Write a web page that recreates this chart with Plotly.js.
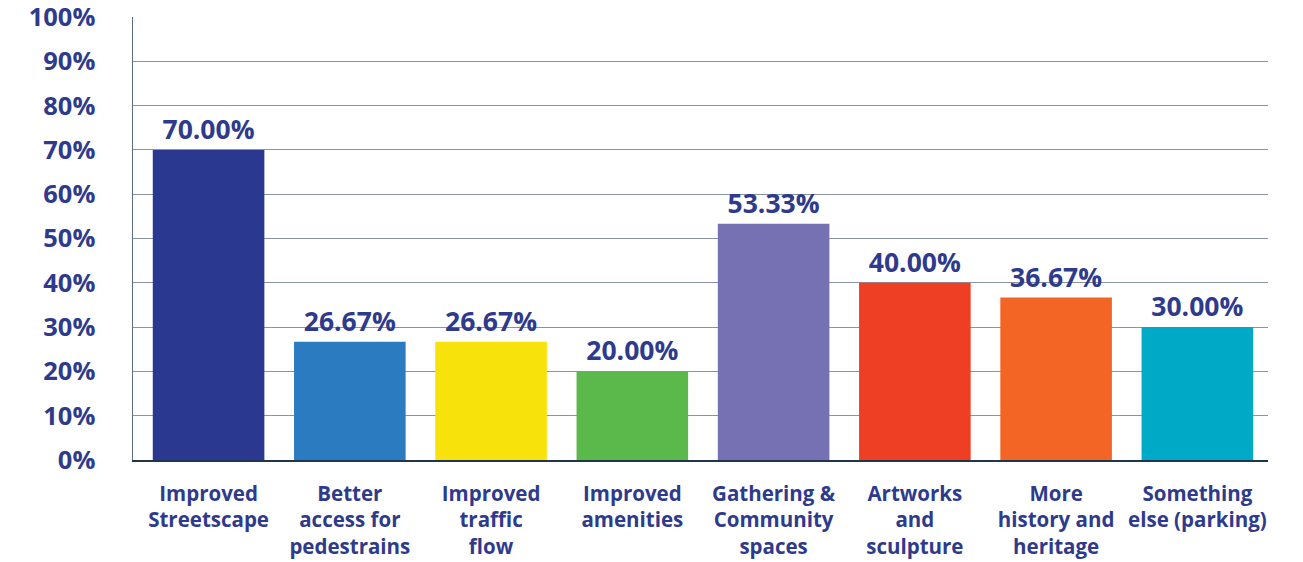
<!DOCTYPE html>
<html>
<head>
<meta charset="utf-8">
<script src="https://cdn.plot.ly/plotly-3.0.1.min.js"></script>
<style>html,body{margin:0;padding:0;background:#fff;}#chart{width:1303px;height:562px;}</style>
</head>
<body>
<div id="chart"></div>
<script>
const categories = [
  "Improved<br>Streetscape",
  "Better<br>access for<br>pedestrains",
  "Improved<br>traffic<br>flow",
  "Improved<br>amenities",
  "Gathering &<br>Community<br>spaces",
  "Artworks<br>and<br>sculpture",
  "More<br>history and<br>heritage",
  "Something<br>else (parking)"
];
const values = [70.00, 26.67, 26.67, 20.00, 53.33, 40.00, 36.67, 30.00];
const barColors = ["#2B388F", "#2B7BC0", "#F8E20C", "#5AB94A", "#7671B2", "#EE3E23", "#F26524", "#00A9C6"];

const navy = "#2E3A8C";
const fontFam = "'Open Sans', Lato, sans-serif";

const trace = {
  type: "bar",
  x: categories,
  y: values,
  marker: {color: barColors},
  text: values.map(v => v.toFixed(2) + "%"),
  textposition: "outside",
  cliponaxis: false,
  textfont: {family: fontFam, size: 26.5, color: navy, weight: 700},
  hoverinfo: "none"
};

const layout = {
  width: 1303,
  height: 562,
  margin: {l: 133, r: 35, t: 17, b: 102},
  paper_bgcolor: "#fff",
  plot_bgcolor: "#fff",
  showlegend: false,
  bargap: 0.21,
  font: {family: fontFam, color: navy, weight: 700},
  xaxis: {
    type: "category",
    range: [-0.535, 7.5],
    showline: true,
    linecolor: "#1F3550",
    linewidth: 2,
    ticks: "",
    tickfont: {family: fontFam, size: 20.5, color: navy, weight: 700},
    ticklabelstandoff: 14,
    ticklabeloverflow: "allow",
    showgrid: false
  },
  yaxis: {
    range: [0, 100],
    dtick: 10,
    ticksuffix: "%",
    showline: true,
    linecolor: "#5D6E7E",
    linewidth: 1.5,
    showgrid: true,
    gridcolor: "#8A93A2",
    gridwidth: 1,
    zeroline: false,
    ticks: "",
    tickfont: {family: fontFam, size: 25.5, color: navy, weight: 700},
    ticklabelstandoff: 31,
    ticklabeloverflow: "allow"
  }
};

Plotly.newPlot("chart", [trace], layout, {displayModeBar: false, staticPlot: true});
</script>
</body>
</html>
